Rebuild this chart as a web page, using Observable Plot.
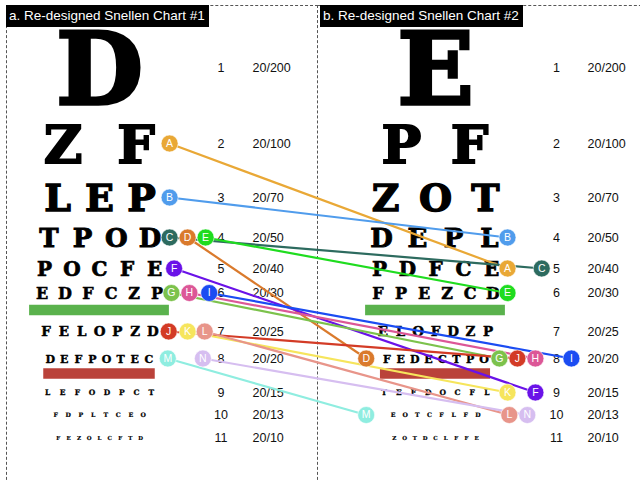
<!DOCTYPE html>
<html>
<head>
<meta charset="utf-8">
<script src="https://cdn.jsdelivr.net/npm/d3@7"></script>
<script src="https://cdn.jsdelivr.net/npm/@observablehq/plot@0.6"></script>
<style>
  body { margin: 0; background: #fff; }
  #wrap { position: relative; width: 640px; height: 480px; overflow: hidden; font-family: "Liberation Sans", Arial, sans-serif; }
  .panel { position: absolute; border-top: 1px dashed #555; box-sizing: border-box; }
  .title { position: absolute; top: 5px; height: 22px; line-height: 22px; background: #000; color: #fff; font-size: 13.5px; padding: 0 4px 0 3px; white-space: nowrap; }
  #chart { position: absolute; left: 0; top: 0; }
</style>
</head>
<body>
<div id="wrap">
  <div class="panel" style="left:6px; top:5px; width:312px; height:500px; border-left:1px dashed #555; border-right:1px dashed #555;"></div>
  <div class="panel" style="left:317px; top:5px; width:340px; height:500px;"></div>
  <div class="title" style="left:6px;">a. Re-designed Snellen Chart #1</div>
  <div class="title" style="left:320px;">b. Re-designed Snellen Chart #2</div>
  <div id="chart"></div>
</div>
<script>
// ---------- data ----------
const rows = [1, 2, 3, 4, 5, 6, 7, 8, 9, 10, 11];
const acuity = ["20/200", "20/100", "20/70", "20/50", "20/40", "20/30", "20/25", "20/20", "20/15", "20/13", "20/10"];
const chart1Rows = ["D", "ZF", "LEP", "TPOD", "POCFE", "EDFCZP", "FELOPZD", "DEFPOTEC", "LEFODPCT", "FDPLTCEO", "FEZOLCFTD"];
const chart2Rows = ["E", "PF", "ZOT", "DEPL", "PDFCE", "FPEZCD", "ELOFDZP", "FEDECTPO", "TEFDOCFL", "EOTCFLFD", "ZOTDCLFFE"];
const markerLabels = ["A", "B", "C", "D", "E", "F", "G", "H", "I", "J", "K", "L", "M", "N"];
const markerColors = ["#E9A836", "#509CEC", "#2D6B5F", "#DA7A2C", "#1FDC1F", "#6A12E8", "#7CC24C", "#DC5797", "#1B4CF2", "#D33B26", "#F6E55C", "#E8958A", "#8FEDE0", "#D6BEF0"];
const markerRow1 = [2, 3, 4, 4, 4, 5, 6, 6, 6, 7, 7, 7, 8, 8];   // row in chart #1
const markerRow2 = [5, 4, 5, 8, 6, 9, 8, 8, 8, 8, 9, 10, 10, 10]; // row in chart #2
const barRows = [6, 8];
const barColors = ["#5AB24D", "#BA423A"];

// ---------- layout (positions / sizes / styles) ----------
const layout = {
  rowY: [67, 143, 197, 237, 268, 292.5, 331, 358, 392, 414.5, 437],
  fontSize: [100, 53, 38, 26, 20, 16, 13.5, 11, 7.5, 6.2, 5.5],
  panels: [
    { center: 99, spacing: [0, 73, 42, 33.7, 27.5, 23, 17.8, 14.1, 14.8, 12.5, 10.3], numX: 220.5, acuityX: 252, markerX: 170, step: 18 },
    { center: 435, spacing: [0, 68, 50, 36, 28, 23, 17.5, 13.9, 14.7, 12.1, 10.3], numX: 556, acuityX: 587, markerX: 507, step: 18 }
  ],
  markerCol1: [-0.05, -0.05, -0.05, 0.95, 1.95, 0.2, 0.05, 1.05, 2.15, -0.1, 0.95, 1.9, -0.15, 1.8],
  markerCol2: [0, 0, 1.9, -7.85, 0, 1.55, -0.45, 1.55, 3.55, 0.55, 0, 0.1, -7.85, 1.1],
  barPad: [6, 2],
  barOffset: 0.44
};
// row number -> vertical position (piecewise)
const rowToY = d3.scaleLinear(rows, layout.rowY);

// ---------- derived tables ----------
const letters = [];
[chart1Rows, chart2Rows].forEach((chart, p) => {
  const P = layout.panels[p];
  chart.forEach((s, i) => {
    [...s].forEach((ch, j) => {
      letters.push({ panel: p, row: rows[i], ch, x: P.center + (j - (s.length - 1) / 2) * P.spacing[i] });
    });
  });
});

const labels = [0, 1].flatMap(p => rows.map((r, i) => ({ panel: p, row: r, num: String(r), acuity: acuity[i], numX: layout.panels[p].numX, acuityX: layout.panels[p].acuityX })));

const bars = [0, 1].flatMap(p => barRows.map((r, k) => {
  const P = layout.panels[p];
  const i = rows.indexOf(r);
  const n = (p === 0 ? chart1Rows : chart2Rows)[i].length;
  const half = (n - 1) / 2 * P.spacing[i] + layout.fontSize[i] * 0.4 + layout.barPad[k];
  return { row: r + layout.barOffset, x1: P.center - half, x2: P.center + half, color: barColors[k] };
}));

const markers = markerLabels.map((m, i) => ({
  label: m,
  color: markerColors[i],
  row1: markerRow1[i],
  row2: markerRow2[i],
  x1: layout.panels[0].markerX + layout.markerCol1[i] * layout.panels[0].step,
  x2: layout.panels[1].markerX + layout.markerCol2[i] * layout.panels[1].step
}));
const ends = markers.flatMap(d => [
  { label: d.label, color: d.color, row: d.row1, x: d.x1 },
  { label: d.label, color: d.color, row: d.row2, x: d.x2 }
]);

// ---------- plot ----------
const letterMarks = rows.map((r, i) => Plot.text(letters.filter(d => d.row === r), {
  x: "x", y: "row", text: "ch",
  fontSize: layout.fontSize[i], fontFamily: "DejaVu Serif", fontWeight: "bold",
  dy: layout.fontSize[i] * 0.045, fill: "#000",
  stroke: "#000", strokeWidth: Math.max(0.2, layout.fontSize[i] * 0.035), strokeLinejoin: "miter"
}));

const chart = Plot.plot({
  width: 640,
  height: 480,
  margin: 0,
  style: { background: "transparent", overflow: "visible" },
  x: { domain: [0, 640], range: [0, 640], axis: null },
  y: { transform: rowToY, domain: [0, 480], range: [0, 480], axis: null },
  color: { type: "identity" },
  marks: [
    Plot.ruleY(bars, { y: "row", x1: "x1", x2: "x2", stroke: "color", strokeWidth: 10.5 }),
    ...letterMarks,
    Plot.text(labels, { x: "numX", y: "row", text: "num", fontSize: 12.5, fontFamily: "Liberation Sans", fill: "#111", textAnchor: "middle" }),
    Plot.text(labels, { x: "acuityX", y: "row", text: "acuity", fontSize: 12.5, fontFamily: "Liberation Sans", fill: "#111", textAnchor: "start" }),
    Plot.link(markers, { x1: "x1", y1: "row1", x2: "x2", y2: "row2", stroke: "color", strokeWidth: 2.2 }),
    Plot.dot(ends, { x: "x", y: "row", r: 8.5, fill: "color", stroke: "white", strokeWidth: 1, strokeOpacity: 0.6 }),
    Plot.text(ends, { x: "x", y: "row", text: "label", fill: "white", fontSize: 10.5, fontFamily: "Liberation Sans" })
  ]
});
document.getElementById("chart").appendChild(chart);
</script>
</body>
</html>
